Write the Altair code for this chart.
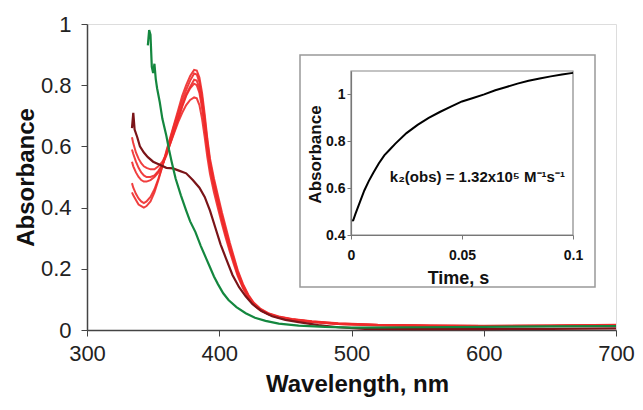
import altair as alt
import pandas as pd

FONT = "Liberation Sans"

# ---------------- main spectra ----------------
red_nm = [334, 335, 337, 339, 341, 343, 345, 348, 351, 354, 357, 360, 363, 366, 369, 372, 375, 378,
          381, 383, 385, 387, 389, 391, 393, 396, 399, 402, 405, 408, 411, 414, 418, 422, 426, 431,
          437, 445, 455, 470, 490, 520, 560, 600, 650, 700]
red_e = [0.45, 0.44, 0.425, 0.41, 0.405, 0.40, 0.405, 0.42, 0.45, 0.49, 0.535, 0.585, 0.63, 0.675, 0.72, 0.765, 0.80, 0.83,
         0.85, 0.848, 0.825, 0.775, 0.705, 0.625, 0.56, 0.495, 0.44, 0.385, 0.335, 0.285, 0.24, 0.195, 0.15, 0.115, 0.09, 0.07,
         0.055, 0.044, 0.036, 0.029, 0.022, 0.017, 0.015, 0.014, 0.015, 0.017]
red_d = [0.48, 0.465, 0.445, 0.43, 0.42, 0.415, 0.42, 0.435, 0.46, 0.495, 0.535, 0.58, 0.625, 0.67, 0.71, 0.75, 0.785, 0.815,
         0.838, 0.835, 0.81, 0.76, 0.69, 0.615, 0.55, 0.485, 0.43, 0.375, 0.325, 0.277, 0.233, 0.19, 0.146, 0.112, 0.088, 0.068,
         0.054, 0.043, 0.035, 0.028, 0.021, 0.016, 0.014, 0.013, 0.014, 0.016]
red_c = [0.55, 0.535, 0.515, 0.50, 0.49, 0.485, 0.485, 0.49, 0.50, 0.515, 0.54, 0.575, 0.615, 0.655, 0.695, 0.735, 0.77, 0.795,
         0.818, 0.815, 0.79, 0.74, 0.675, 0.60, 0.54, 0.475, 0.42, 0.368, 0.318, 0.27, 0.228, 0.186, 0.143, 0.11, 0.086, 0.067,
         0.053, 0.042, 0.034, 0.027, 0.02, 0.016, 0.014, 0.013, 0.014, 0.016]
red_b = [0.59, 0.575, 0.55, 0.53, 0.515, 0.505, 0.50, 0.50, 0.505, 0.52, 0.54, 0.57, 0.61, 0.65, 0.69, 0.73, 0.765, 0.79,
         0.805, 0.80, 0.775, 0.725, 0.66, 0.59, 0.53, 0.468, 0.413, 0.36, 0.31, 0.265, 0.223, 0.182, 0.14, 0.108, 0.084, 0.066,
         0.052, 0.041, 0.034, 0.027, 0.02, 0.016, 0.014, 0.013, 0.014, 0.015]
red_a = [0.63, 0.61, 0.58, 0.56, 0.545, 0.535, 0.53, 0.525, 0.525, 0.535, 0.55, 0.575, 0.61, 0.645, 0.68, 0.71, 0.735, 0.752,
         0.76, 0.757, 0.735, 0.69, 0.63, 0.565, 0.51, 0.45, 0.398, 0.347, 0.30, 0.256, 0.215, 0.176, 0.136, 0.105, 0.082, 0.064,
         0.051, 0.04, 0.033, 0.026, 0.02, 0.015, 0.013, 0.012, 0.013, 0.015]

maroon_nm = [334, 335, 336, 338, 340, 343, 346, 350, 355, 360, 365, 370, 375, 380, 385, 389, 393, 397, 401, 405,
             410, 415, 420, 425, 432, 440, 450, 460, 475, 490, 510, 550, 600, 650, 700]
maroon_abs = [0.66, 0.71, 0.655, 0.63, 0.60, 0.58, 0.565, 0.55, 0.54, 0.53, 0.528, 0.52, 0.512, 0.49, 0.465, 0.435, 0.39,
              0.335, 0.28, 0.235, 0.18, 0.14, 0.11, 0.085, 0.062, 0.045, 0.033, 0.026, 0.016, 0.009, 0.004, 0.003, 0.003,
              0.004, 0.005]

green_nm = [346, 347, 348, 349, 350, 351, 352, 353, 355, 357, 360, 362, 364, 367, 371, 375, 378, 382, 386, 390, 393,
            396, 399, 403, 407, 413, 420, 427, 435, 445, 460, 480, 500, 550, 600, 650, 700]
green_abs = [0.93, 0.98, 0.965, 0.86, 0.84, 0.87, 0.82, 0.79, 0.745, 0.69, 0.635, 0.59, 0.55, 0.495, 0.44, 0.39, 0.355,
             0.32, 0.275, 0.235, 0.205, 0.175, 0.15, 0.12, 0.098, 0.075, 0.055, 0.04, 0.03, 0.021, 0.014, 0.01, 0.008,
             0.009, 0.01, 0.012, 0.013]

# ---------------- inset kinetic trace ----------------
kin_t = [0, 0.001, 0.002, 0.004, 0.006, 0.008, 0.01, 0.0125, 0.015, 0.0175, 0.02, 0.025, 0.03, 0.035, 0.04,
         0.045, 0.05, 0.055, 0.06, 0.065, 0.07, 0.075, 0.08, 0.085, 0.09, 0.095, 0.1]
kin_abs = [0.462, 0.463, 0.49, 0.54, 0.59, 0.63, 0.665, 0.705, 0.74, 0.765, 0.79, 0.835, 0.87, 0.90, 0.925,
           0.948, 0.97, 0.985, 1.0, 1.018, 1.032, 1.046, 1.058, 1.068, 1.077, 1.085, 1.092]

main_x_ticks = [300, 400, 500, 600, 700]
main_y_ticks = [0, 0.2, 0.4, 0.6, 0.8, 1]
inset_x_ticks = [0, 0.05, 0.1]
inset_y_ticks = [0.4, 0.6, 0.8, 1]
annotation = "k\u2082(obs) = 1.32x10\u2075 M\u207b\u00b9s\u207b\u00b9"

GREEN = "#14873f"
MAROON = "#7a1418"
RED = "#ee2a2a"

rows = []
for name, vals in [("r1", red_a), ("r2", red_b), ("r3", red_c), ("r4", red_d), ("r5", red_e)]:
    for w, v in zip(red_nm, vals):
        rows.append({"nm": w, "A": v, "s": name, "g": "red"})
for w, v in zip(maroon_nm, maroon_abs):
    rows.append({"nm": w, "A": v, "s": "maroon", "g": "maroon"})
for w, v in zip(green_nm, green_abs):
    rows.append({"nm": w, "A": v, "s": "green", "g": "green"})
spec = pd.DataFrame(rows)

kin = pd.DataFrame({"t": kin_t, "kA": kin_abs})

x_main = alt.X("nm:Q", scale=alt.Scale(domain=[300, 700], nice=False, zero=False),
               axis=alt.Axis(values=main_x_ticks, title="Wavelength, nm", grid=False, labelFlush=False,
                             labelOverlap=False,
                             labelFont=FONT, labelFontSize=22, labelColor="#222", labelPadding=7,
                             tickSize=6, tickColor="#444", domainColor="#444", domainWidth=1.5,
                             titleFont=FONT, titleFontSize=24, titleFontWeight="bold", titleColor="#111",
                             titleX=270, titleY=54, titleBaseline="middle", titleAnchor="middle"))
y_main = alt.Y("A:Q", scale=alt.Scale(domain=[0, 1], nice=False, zero=False),
               axis=alt.Axis(values=main_y_ticks, format="~g", title="Absorbance", grid=False, labelFlush=False,
                             labelOverlap=False,
                             labelFont=FONT, labelFontSize=22, labelColor="#222", labelPadding=10,
                             tickSize=6, tickColor="#444", domainColor="#444", domainWidth=1.5,
                             titleFont=FONT, titleFontSize=24, titleFontWeight="bold", titleColor="#111",
                             titleX=-61, titleY=153, titleBaseline="middle", titleAngle=-90))

base = alt.Chart(spec).encode(x=x_main, y=y_main, detail="s:N")
reds = base.transform_filter(alt.datum.g == "red").mark_line(color=RED, strokeWidth=2, opacity=0.9)
maroon = base.transform_filter(alt.datum.g == "maroon").mark_line(color=MAROON, strokeWidth=2.2)
green = base.transform_filter(alt.datum.g == "green").mark_line(color=GREEN, strokeWidth=2.2)
spectra = alt.layer(reds, maroon, green)

outer_box = alt.Chart(alt.Data(values=[{}])).mark_rect(
    fill="white", stroke="#999", strokeWidth=1.5
).encode(x=alt.value(213), x2=alt.value(508), y=alt.value(31), y2=alt.value(263))

ix_scale = alt.Scale(domain=[0, 0.1], range=[264, 486], nice=False, zero=False)
iy_scale = alt.Scale(domain=[0.4, 1.1], range=[211, 47], nice=False, zero=False)

x_in = alt.X("t:Q", scale=ix_scale,
             axis=alt.Axis(orient="bottom", offset=-95, values=inset_x_ticks, format="~g", title="Time, s",
                           zindex=2, labelFlush=False, labelOverlap=False,
                           grid=False, labelFont=FONT, labelFontSize=14, labelFontWeight="bold",
                           labelColor="#111", labelPadding=9, tickSize=4, tickColor="#777",
                           domainColor="#777", domainWidth=1.2,
                           titleFont=FONT, titleFontSize=18, titleFontWeight="bold", titleColor="#111",
                           titleX=371, titleY=43, titleBaseline="middle", titleAnchor="middle"))
y_in = alt.Y("kA:Q", scale=iy_scale,
             axis=alt.Axis(orient="left", offset=-264, values=inset_y_ticks, format="~g", title="Absorbance",
                           zindex=2, labelFlush=False, labelOverlap=False,
                           grid=False, labelFont=FONT, labelFontSize=14, labelFontWeight="bold",
                           labelColor="#111", labelPadding=2, tickSize=4, tickColor="#777",
                           domainColor="#777", domainWidth=1.2,
                           titleFont=FONT, titleFontSize=17, titleFontWeight="bold", titleColor="#111",
                           titleX=-36, titleY=130, titleBaseline="middle", titleAngle=-90))

inset_line = alt.Chart(kin).mark_line(color="black", strokeWidth=2).encode(x=x_in, y=y_in)
inset_frame = alt.Chart(alt.Data(values=[{}])).mark_rect(
    fillOpacity=0, stroke="#888", strokeWidth=1.2
).encode(x=alt.datum(0), x2=alt.datum(0.1), y=alt.datum(0.4), y2=alt.datum(1.1))
inset_text = alt.Chart(alt.Data(values=[{}])).mark_text(
    align="left", baseline="middle", font=FONT, fontSize=15, fontWeight="bold", color="#111"
).encode(x=alt.datum(0.0175), y=alt.datum(0.648), text=alt.value(annotation))
inset = alt.layer(inset_frame, inset_line, inset_text)

chart = alt.layer(spectra, outer_box, inset).resolve_scale(
    x="independent", y="independent"
).properties(
    width=529, height=306,
    autosize=alt.AutoSizeParams(type="none"),
    padding={"left": 79, "top": 16, "right": 19, "bottom": 72},
).configure_view(stroke="#555", strokeWidth=1.5).configure(background="white")

chart.save("out.html", embed_options={"renderer": "svg", "actions": False})
